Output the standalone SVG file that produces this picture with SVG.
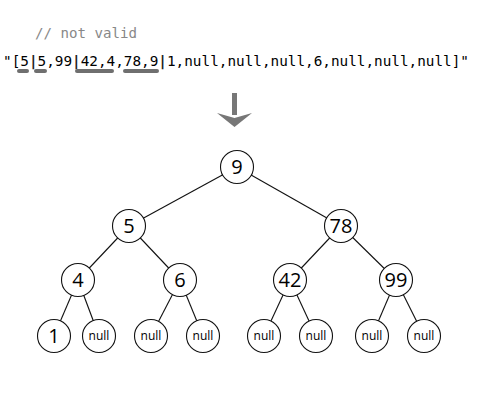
<svg xmlns="http://www.w3.org/2000/svg" width="478" height="400" viewBox="0 0 478 400">
<style>
.code{font-family:"DejaVu Sans Mono","Liberation Mono",monospace;font-size:14px;}
.cm{fill:#888;}
.pipe{font-weight:bold;fill:#222;}
.ul{stroke:#6f6f6f;stroke-width:4;stroke-linecap:round;}
.edge{stroke:#111;stroke-width:1.1;}
.node circle{fill:#fff;stroke:#111;stroke-width:1.1;}
.node text{font-family:"Open Sans","Noto Sans",sans-serif;text-anchor:middle;fill:#000;}
.big{font-size:20px;}
.small{font-size:12px;}
</style>
<rect width="478" height="400" fill="#fff"/>
<text class="code cm" x="35" y="38" textLength="102" lengthAdjust="spacingAndGlyphs">// not valid</text>
<text class="code" x="3" y="66" textLength="466" lengthAdjust="spacingAndGlyphs">"[5<tspan class="pipe">|</tspan>5,99<tspan class="pipe">|</tspan>42,4,78,9<tspan class="pipe">|</tspan>1,null,null,null,6,null,null,null]"</text>
<g id="underlines">
<line class="ul" x1="19" y1="71" x2="27" y2="71"/>
<line class="ul" x1="36" y1="71" x2="45" y2="71"/>
<line class="ul" x1="77" y1="71" x2="112" y2="71"/>
<line class="ul" x1="125" y1="71" x2="157" y2="71"/>
</g>
<g id="arrow" fill="#777">
<rect x="232" y="93" width="5" height="22"/>
<path d="M217,113 L234.5,127 L252,113 L234.5,118 Z"/>
</g>
<g id="connectors">
<line class="edge" x1="237" y1="167" x2="129" y2="226"/>
<line class="edge" x1="237" y1="167" x2="341" y2="226"/>
<line class="edge" x1="129" y1="226" x2="78" y2="280"/>
<line class="edge" x1="129" y1="226" x2="180" y2="280"/>
<line class="edge" x1="341" y1="226" x2="290" y2="280"/>
<line class="edge" x1="341" y1="226" x2="396" y2="280"/>
<line class="edge" x1="78" y1="280" x2="54" y2="336"/>
<line class="edge" x1="78" y1="280" x2="99" y2="336"/>
<line class="edge" x1="180" y1="280" x2="151" y2="336"/>
<line class="edge" x1="180" y1="280" x2="203" y2="336"/>
<line class="edge" x1="290" y1="280" x2="264" y2="336"/>
<line class="edge" x1="290" y1="280" x2="316" y2="336"/>
<line class="edge" x1="396" y1="280" x2="372" y2="336"/>
<line class="edge" x1="396" y1="280" x2="424" y2="336"/>
</g>
<g id="n9" class="node"><circle cx="237" cy="167" r="16.5"/><text class="big" x="237" y="174">9</text></g>
<g id="n5" class="node"><circle cx="129" cy="226" r="16.5"/><text class="big" x="129" y="233">5</text></g>
<g id="n78" class="node"><circle cx="341" cy="226" r="16.5"/><text class="big" x="341" y="233">78</text></g>
<g id="n4" class="node"><circle cx="78" cy="280" r="16.5"/><text class="big" x="78" y="287">4</text></g>
<g id="n6" class="node"><circle cx="180" cy="280" r="16.5"/><text class="big" x="180" y="287">6</text></g>
<g id="n42" class="node"><circle cx="290" cy="280" r="16.5"/><text class="big" x="290" y="287">42</text></g>
<g id="n99" class="node"><circle cx="396" cy="280" r="16.5"/><text class="big" x="396" y="287">99</text></g>
<g id="n1" class="node"><circle cx="54" cy="336" r="16.5"/><text class="big" x="54" y="343">1</text></g>
<g id="null1" class="node"><circle cx="99" cy="336" r="16.5"/><text class="small" x="99" y="340">null</text></g>
<g id="null2" class="node"><circle cx="151" cy="336" r="16.5"/><text class="small" x="151" y="340">null</text></g>
<g id="null3" class="node"><circle cx="203" cy="336" r="16.5"/><text class="small" x="203" y="340">null</text></g>
<g id="null4" class="node"><circle cx="264" cy="336" r="16.5"/><text class="small" x="264" y="340">null</text></g>
<g id="null5" class="node"><circle cx="316" cy="336" r="16.5"/><text class="small" x="316" y="340">null</text></g>
<g id="null6" class="node"><circle cx="372" cy="336" r="16.5"/><text class="small" x="372" y="340">null</text></g>
<g id="null7" class="node"><circle cx="424" cy="336" r="16.5"/><text class="small" x="424" y="340">null</text></g>
</svg>
